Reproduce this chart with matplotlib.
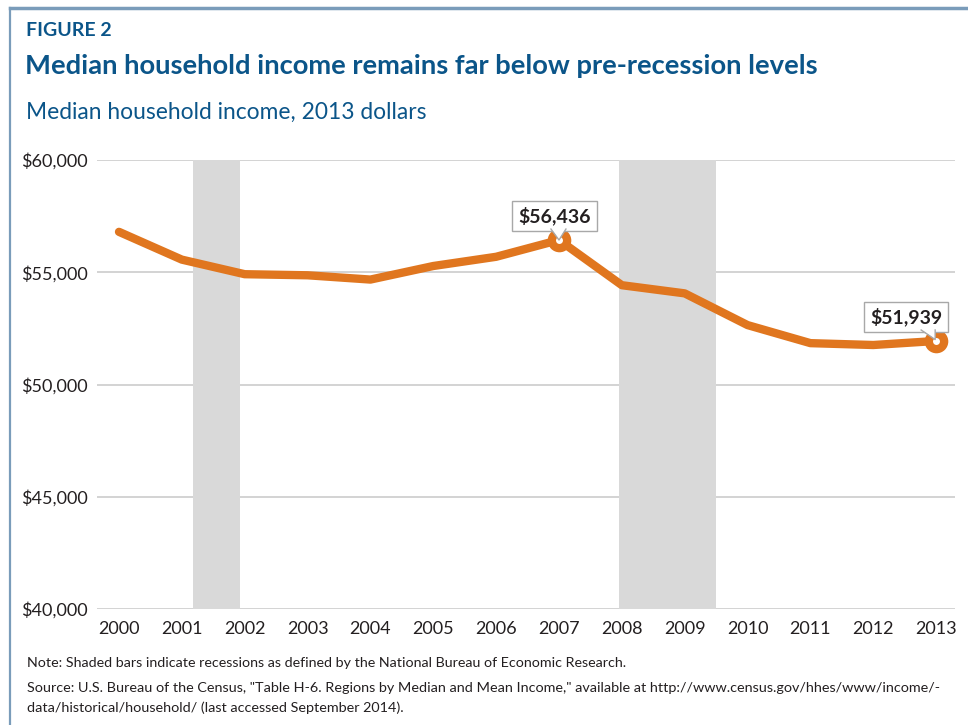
import matplotlib
matplotlib.use("Agg")
import matplotlib.pyplot as plt
import matplotlib.transforms as mtransforms
from matplotlib.patches import Polygon
from matplotlib.lines import Line2D

years = [2000, 2001, 2002, 2003, 2004, 2005, 2006, 2007, 2008, 2009, 2010, 2011, 2012, 2013]
income = [56800, 55562, 54913, 54865, 54674, 55278, 55689, 56436, 54423, 54059, 52646, 51842, 51759, 51939]
recessions = [(2001.17, 2001.92), (2007.95, 2009.5)]
yticks = [40000, 45000, 50000, 55000, 60000]
ytick_labels = ["$40,000", "$45,000", "$50,000", "$55,000", "$60,000"]
highlight_years = [2007, 2013]
highlight_labels = ["$56,436", "$51,939"]

FONT = "Lato"
plt.rcParams['font.family'] = [FONT, 'DejaVu Sans']
BLUE = "#0b5589"
ORANGE = "#e0761f"
TXT = "#231f20"
EDGE = "#a8a8a8"

W, H = 968, 725
fig = plt.figure(figsize=(W/100, H/100), dpi=100)

# frame lines
fig.add_artist(Line2D([10/W, 10/W], [0, 1 - 8/H], color="#7a9cba", lw=1.6, transform=fig.transFigure))
fig.add_artist(Line2D([10/W, 1], [1 - 8/H, 1 - 8/H], color="#7a9cba", lw=2.5, transform=fig.transFigure))

fig.text(26/W, 1 - 31/H, "FIGURE 2", fontsize=14, fontweight="bold", color=BLUE, va="center", ha="left")
fig.text(25/W, 1 - 66/H, "Median household income remains far below pre-recession levels",
         fontsize=19.7, fontweight="bold", color=BLUE, va="center", ha="left")
fig.text(26/W, 1 - 112/H, "Median household income, 2013 dollars",
         fontsize=16.4, color=BLUE, va="center", ha="left")

ax = fig.add_axes([97/W, 1 - 609/H, (955 - 97)/W, (609 - 160)/H])
ax.set_xlim(1999.65, 2013.3)
ax.set_ylim(40000, 60000)
for s in ax.spines.values():
    s.set_visible(False)
ax.set_yticks(yticks)
ax.set_yticklabels(ytick_labels)
ax.set_xticks(years)
ax.set_xticklabels([str(y) for y in years])
ax.tick_params(axis="both", length=0, labelsize=13, labelcolor=TXT)
ax.tick_params(axis="y", pad=6.5)
ax.tick_params(axis="x", pad=9)
ax.grid(axis="y", color="#d3d3d3", lw=1.4, zorder=0)
ax.set_axisbelow(True)

for a, b in recessions:
    ax.axvspan(a, b, color="#d9d9d9", lw=0, zorder=1)

ax.plot(years, income, color=ORANGE, lw=6, solid_capstyle="round", solid_joinstyle="round", zorder=3)

hx = highlight_years
hy = [income[years.index(y)] for y in hx]
ax.plot(hx, hy, "o", ms=17, color=ORANGE, mec="none", zorder=4)
ax.plot(hx, hy, "o", ms=5, color="white", mec="none", zorder=4.5)

# label box offsets and pointer shapes (in points, relative to the data point)
offsets = [(-3.2, 17.3), (-21.6, 17.3)]
pointers = [((-5.8, 5.0), (0.0, 0.0)), ((-10.8, -0.7), (-0.7, 1.0))]
for (x, y), lab, (dx, dy), ((bl, br), tip) in zip(zip(hx, hy), highlight_labels, offsets, pointers):
    ax.annotate(lab, (x, y), xytext=(dx, dy), textcoords="offset points",
                ha="center", va="center", fontsize=14, fontweight="bold", color=TXT,
                bbox=dict(boxstyle="square,pad=0.3", fc="white", ec=EDGE, lw=1.0),
                zorder=6)
    tr = mtransforms.Affine2D().scale(fig.dpi / 72) + mtransforms.ScaledTranslation(x, y, ax.transData)
    base_y = dy - 9.4
    tri = [(bl, base_y + 0.6), tip, (br, base_y + 0.6)]
    ax.add_patch(Polygon(tri, closed=True, fc="white", ec="none", transform=tr, zorder=7))
    ax.add_line(Line2D([bl, tip[0], br], [base_y, tip[1], base_y], color=EDGE, lw=1.0,
                       transform=tr, zorder=7.5))

fig.text(27/W, 1 - 663/H, "Note: Shaded bars indicate recessions as defined by the National Bureau of Economic Research.",
         fontsize=10.3, color=TXT, va="center", ha="left")
fig.text(27/W, 1 - 688/H, "Source: U.S. Bureau of the Census, \"Table H-6. Regions by Median and Mean Income,\" available at http://www.census.gov/hhes/www/income/-",
         fontsize=10.4, color=TXT, va="center", ha="left")
fig.text(27/W, 1 - 708/H, "data/historical/household/ (last accessed September 2014).",
         fontsize=10.4, color=TXT, va="center", ha="left")

fig.savefig("out.png", dpi=100)
